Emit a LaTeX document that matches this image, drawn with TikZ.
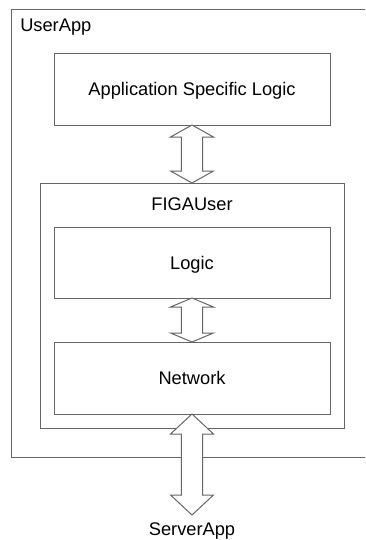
\documentclass[tikz,border=0pt]{standalone}
\usepackage{fontspec}
\setmainfont{Liberation Sans}
\usetikzlibrary{calc}
\definecolor{linegray}{HTML}{666666}
\tikzset{
  frame/.style={draw=linegray, line width=0.75pt},
  box/.style={frame, fill=white, rectangle, inner sep=0pt, outer sep=0pt,
    minimum width=207pt, text height=9.8pt, text depth=0pt},
  caption/.style={inner sep=0pt, anchor=base},
  blockarrow/.style={draw=linegray, line width=0.75pt, fill=white, line join=miter},
}
% double-headed block arrow between two anchors; #3 = head length
\newcommand\dualarrow[3]{%
  \path[blockarrow] let \p1=(#1), \p2=(#2) in
    (\x1,\y1) -- ({\x1+16.1pt},{\y1-#3}) -- ({\x1+7.9pt},{\y1-#3})
    -- ({\x1+7.9pt},{\y2+#3}) -- ({\x1+16.1pt},{\y2+#3}) -- (\x1,\y2)
    -- ({\x1-16.1pt},{\y2+#3}) -- ({\x1-7.9pt},{\y2+#3})
    -- ({\x1-7.9pt},{\y1-#3}) -- ({\x1-16.1pt},{\y1-#3}) -- cycle;}
\begin{document}
\begin{tikzpicture}[x=0.75pt, y=-0.75pt, font=\fontsize{13.7pt}{16pt}\selectfont]
  \useasboundingbox (0,0) rectangle (365,540);

  % UserApp container (open on the right)
  \draw[frame] (365,9) -- (11,9) -- (11,457) -- (365,457);
  \node[caption, anchor=base west] (userapp) at (20,31.7) {UserApp};

  \node[box] (asl) at (192,89) [minimum height=54pt] {Application Specific Logic};

  % FIGAUser container
  \node[box, minimum width=228pt, minimum height=183.75pt] (figa) at (192,305.5) {};
  \node[caption] (figalabel) at (192,210) {FIGAUser};

  \node[box, minimum height=53.25pt] (logic) at (192,262.5) {Logic};
  \node[box, minimum height=54pt] (network) at (192,378) {Network};

  \node[caption] (server) at (192,535) {ServerApp};
  \coordinate (serverend) at (192,515);

  % block arrows
  \dualarrow{asl.south}{figa.north}{9pt}
  \dualarrow{logic.south}{network.north}{6.75pt}
  \dualarrow{network.south}{serverend}{15pt}
\end{tikzpicture}
\end{document}
